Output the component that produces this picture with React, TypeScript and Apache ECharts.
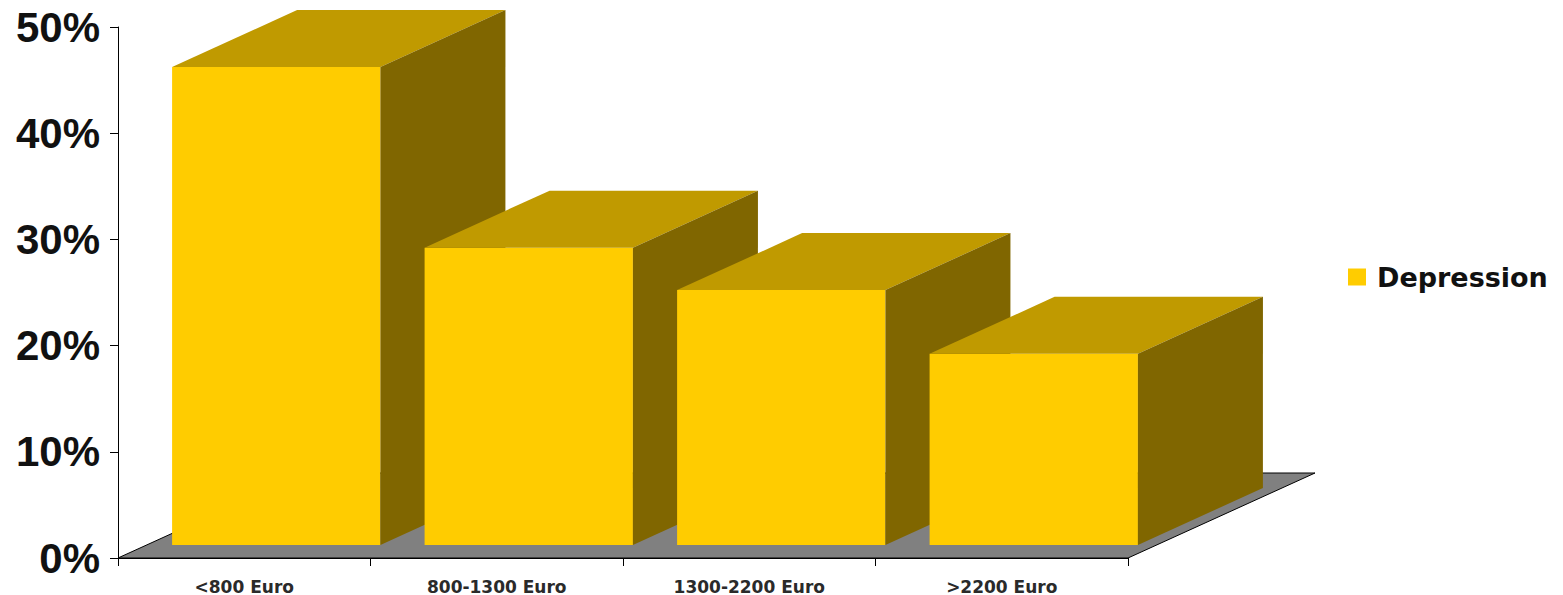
import React, { useEffect, useRef } from "react";
import * as echarts from "echarts";

const categories = ["<800 Euro", "800-1300 Euro", "1300-2200 Euro", ">2200 Euro"];
const depression = [45, 28, 24, 18];
const seriesName = "Depression";
const yMin = 0;
const yMax = 50;
const yInterval = 10;

// 3D projection styling (pixels)
const FLOOR_DX = 187;
const FLOOR_DY = -85;
const FRONT_DX = 32;
const FRONT_DY = -13;
const DEPTH_DX = 125;
const DEPTH_DY = -57;
const BAR_RATIO = 0.825;

const FRONT_COLOR = "#FFCC00";
const TOP_COLOR = "#C09A00";
const SIDE_COLOR = "#806600";
const FLOOR_COLOR = "#808080";

export default function App() {
  const ref = useRef<HTMLDivElement>(null);
  useEffect(() => {
    document.body.style.margin = "0";
    const chart = echarts.init(ref.current!, null, { renderer: "svg" });
    const option: any = {
      animation: false,
      grid: {
        left: 118,
        right: 435,
        top: 27,
        bottom: 37,
        containLabel: false,
        outerBoundsMode: "none",
      },
      legend: {
        data: [{ name: seriesName, itemStyle: { color: FRONT_COLOR } }],
        left: 1348,
        top: 263,
        padding: 0,
        icon: "rect",
        itemWidth: 18,
        itemHeight: 17,
        textStyle: {
          fontFamily: "DejaVu Sans",
          fontWeight: "bold",
          fontSize: 27,
          color: "#111",
          lineHeight: 28,
          padding: [0, 0, 0, 6],
        },
      },
      xAxis: {
        type: "category",
        data: categories,
        boundaryGap: true,
        axisLine: { show: true, lineStyle: { color: "#000", width: 1 } },
        axisTick: { show: true, length: 8, interval: 0, lineStyle: { color: "#000" } },
        axisLabel: {
          interval: 0,
          margin: 20,
          fontFamily: "DejaVu Sans",
          fontWeight: "bold",
          fontSize: 17,
          color: "#2a2a2a",
        },
        splitLine: { show: false },
      },
      yAxis: {
        type: "value",
        min: yMin,
        max: yMax,
        interval: yInterval,
        axisLine: { show: true, lineStyle: { color: "#000", width: 1 } },
        axisTick: { show: true, length: 8, lineStyle: { color: "#000" } },
        axisLabel: {
          formatter: "{value}%",
          margin: 18,
          fontFamily: "Liberation Sans, Arial",
          fontWeight: "bold",
          fontSize: 42,
          color: "#111",
        },
        splitLine: { show: false },
      },
      series: [
        {
          name: "floor",
          type: "custom",
          silent: true,
          data: [[0, 0]],
          renderItem: (params: any, api: any) => {
            const cs = params.coordSys;
            const base = api.coord([0, yMin]);
            const y0 = base[1];
            const xl = cs.x;
            const xr = cs.x + cs.width;
            return {
              type: "polygon",
              shape: {
                points: [
                  [xl, y0],
                  [xr, y0],
                  [xr + FLOOR_DX, y0 + FLOOR_DY],
                  [xl + FLOOR_DX, y0 + FLOOR_DY],
                ],
              },
              style: { fill: FLOOR_COLOR, stroke: "#000", lineWidth: 1 },
            };
          },
          z: 1,
        },
        {
          name: seriesName,
          type: "custom",
          itemStyle: { color: FRONT_COLOR },
          data: depression.map((v, i) => [i, v]),
          encode: { x: 0, y: 1 },
          renderItem: (params: any, api: any) => {
            const idx = api.value(0);
            const v = api.value(1);
            const base = api.coord([idx, yMin]);
            const top = api.coord([idx, v]);
            const catW = api.size([1, 0])[0];
            const w = catW * BAR_RATIO;
            const x0 = base[0] - w / 2 + FRONT_DX;
            const x1 = x0 + w;
            const yb = base[1] + FRONT_DY;
            const yt = top[1] + FRONT_DY;
            return {
              type: "group",
              children: [
                {
                  type: "polygon",
                  shape: {
                    points: [
                      [x0, yt],
                      [x1, yt],
                      [x1, yb],
                      [x0, yb],
                    ],
                  },
                  style: { fill: FRONT_COLOR },
                },
                {
                  type: "polygon",
                  shape: {
                    points: [
                      [x0, yt],
                      [x1, yt],
                      [x1 + DEPTH_DX, yt + DEPTH_DY],
                      [x0 + DEPTH_DX, yt + DEPTH_DY],
                    ],
                  },
                  style: { fill: TOP_COLOR },
                },
                {
                  type: "polygon",
                  shape: {
                    points: [
                      [x1, yt],
                      [x1 + DEPTH_DX, yt + DEPTH_DY],
                      [x1 + DEPTH_DX, yb + DEPTH_DY],
                      [x1, yb],
                    ],
                  },
                  style: { fill: SIDE_COLOR },
                },
              ],
            };
          },
          z: 2,
        },
      ],
    };
    chart.setOption(option);
    return () => chart.dispose();
  }, []);
  return <div ref={ref} style={{ width: 1563, height: 595 }} />;
}
